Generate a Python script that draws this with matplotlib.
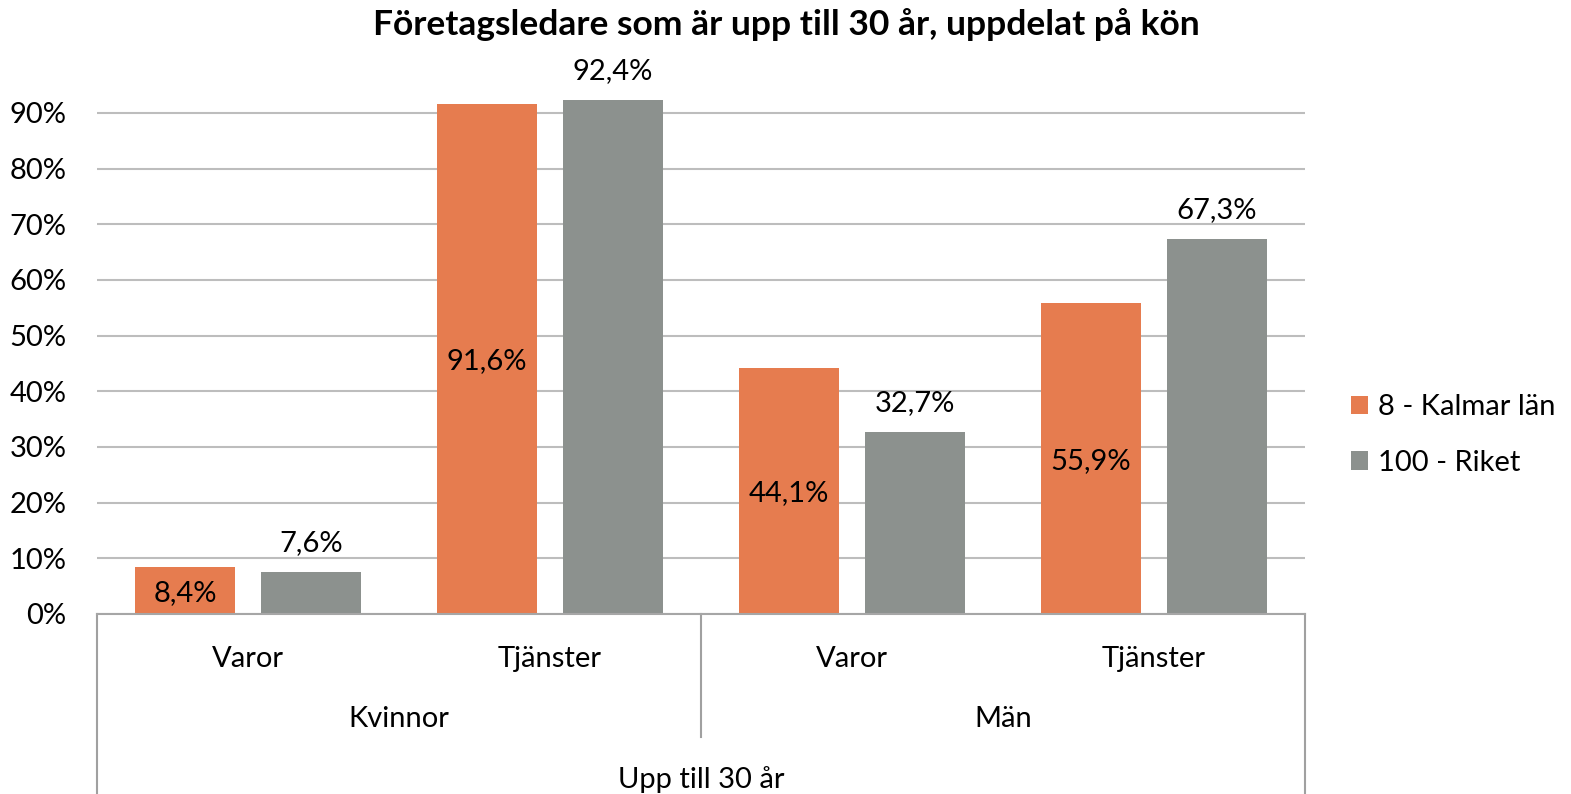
import numpy as np
import matplotlib
matplotlib.use("Agg")
import matplotlib.pyplot as plt
from matplotlib.patches import Patch

plt.rcParams['font.family'] = ['Lato', 'DejaVu Sans']

# --- Data ---
categories = ["Varor", "Tjänster", "Varor", "Tjänster"]
groups = ["Kvinnor", "Män"]
top_label = "Upp till 30 år"
kalmar = [8.4, 91.6, 44.1, 55.9]
riket = [7.6, 92.4, 32.7, 67.3]
series_names = ["8 - Kalmar län", "100 - Riket"]
title = "Företagsledare som är upp till 30 år, uppdelat på kön"

orange = "#E67C4F"
gray = "#8C918E"
FS = 21


def fmt(v):
    return f"{v:.1f}%".replace(".", ",")


W, H = 1571, 794
fig = plt.figure(figsize=(W / 100, H / 100), dpi=100)
ax = fig.add_axes([97 / W, (H - 614) / H, 1208 / W, (614 - 57.3) / H])

x = np.arange(len(categories))
bw = 0.331
off = 0.209
b1 = ax.bar(x - off, [v / 100 for v in kalmar], bw, color=orange, zorder=3)
b2 = ax.bar(x + off, [v / 100 for v in riket], bw, color=gray, zorder=3)

# data labels: orange inside (center), gray above
for rect, v in zip(b1, kalmar):
    ax.text(rect.get_x() + rect.get_width() / 2, rect.get_height() / 2 - 0.004, fmt(v),
            ha="center", va="center", fontsize=FS, color="black", zorder=4)
for rect, v in zip(b2, riket):
    ax.text(rect.get_x() + rect.get_width() / 2, rect.get_height() + 0.052, fmt(v),
            ha="center", va="center", fontsize=FS, color="black", zorder=4)

ax.set_xlim(-0.5, len(categories) - 0.5)
ax.set_ylim(0, 1.0)
ax.set_yticks(np.arange(0, 1.0, 0.1))
ax.set_yticklabels([f"{int(round(t * 100))}%" for t in np.arange(0, 1.0, 0.1)])
ax.tick_params(axis="y", length=0, pad=22, labelsize=FS)
ax.set_xticks([])
ax.yaxis.grid(True, color="#BDBDBD", linewidth=1.5, zorder=0)
for s in ["top", "right", "left"]:
    ax.spines[s].set_visible(False)
ax.spines["bottom"].set_color("#A6A6A6")
ax.spines["bottom"].set_linewidth(1.5)
ax.spines["bottom"].set_zorder(5)

# multi-level category axis
tr = ax.get_xaxis_transform()
ax_h = 614 - 57.3
lc = "#A0A0A0"
for xv in [-0.5, len(categories) - 0.5]:
    ax.plot([xv, xv], [0, -(794 - 614) / ax_h], transform=tr, color=lc, lw=1.5, clip_on=False)
ax.plot([1.5, 1.5], [0, -(737 - 614) / ax_h], transform=tr, color=lc, lw=1.5, clip_on=False)

for xi, c in zip(x, categories):
    ax.text(xi, -(659 - 614) / ax_h, c, transform=tr, ha="center", va="center", fontsize=FS)
for gi, g in enumerate(groups):
    ax.text(0.5 + 2 * gi, -(719 - 614) / ax_h, g, transform=tr, ha="center", va="center", fontsize=FS)
ax.text(1.5, -(780 - 614) / ax_h, top_label, transform=tr, ha="center", va="center", fontsize=FS)

fig.text(786 / W, 1 - 25 / H, title, ha="center", va="center", fontsize=25.5, fontweight="bold")

handles = [Patch(facecolor=orange), Patch(facecolor=gray)]
fig.legend(handles, series_names, loc="center left", bbox_to_anchor=(1339 / W, 1 - 435 / H),
           frameon=False, fontsize=FS, handlelength=0.6, handleheight=0.6,
           handletextpad=0.35, labelspacing=1.0, borderaxespad=0)

fig.savefig("out.png", dpi=100)
